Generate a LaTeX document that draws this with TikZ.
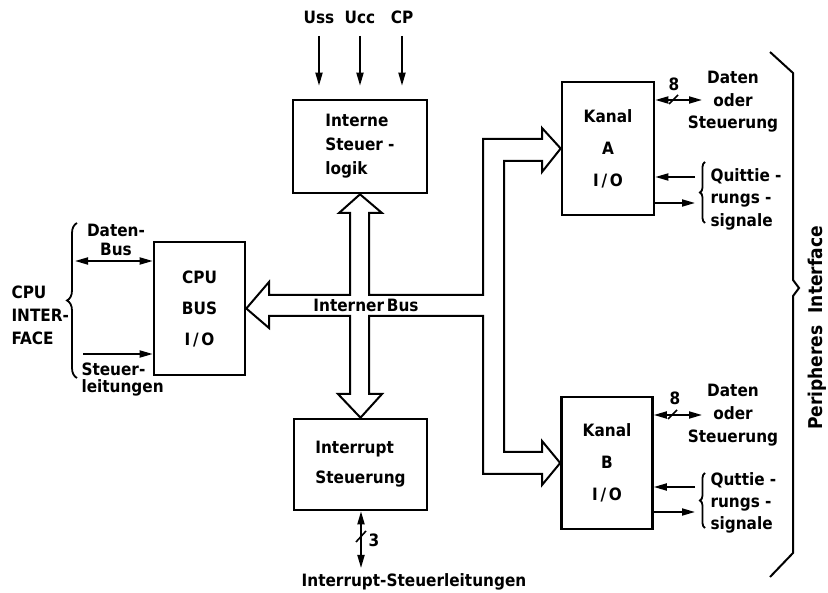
\documentclass[tikz,border=0pt]{standalone}
\usepackage{fontspec}
\newfontfamily\lab{DejaVu Sans Condensed}
\usetikzlibrary{arrows.meta,decorations.pathreplacing}
\tikzset{
    block/.style={draw,line width=2.6pt,inner sep=0pt},
    sig/.style={line width=1.8pt,-{Triangle[length=13pt,width=7pt]}},
    dsig/.style={line width=1.8pt,{Triangle[length=13pt,width=7pt]}-{Triangle[length=13pt,width=7pt]}},
    bus/.style={line width=2pt,line join=miter},
    brc/.style={line width=1.8pt,decorate,decoration={brace,amplitude=#1}},
    fs/.style={font=\lab\bfseries\fontsize{17}{#1}\selectfont}
}
\begin{document}
\begin{tikzpicture}[x=1pt,y=-1pt,every node/.style={fs=22}]
    \useasboundingbox (0,0) rectangle (828,593);
    % Bausteine
    \node[block,minimum width=134pt,minimum height=93pt,align=left,fs=24] (logik) at (360,146.5) {Interne\\Steuer -\\logik};
    \node[block,minimum width=91pt,minimum height=133pt,align=center,fs=31] (cpu) at (199.5,308.5) {CPU\\BUS\\I\,/\,O};
    \node[block,minimum width=92pt,minimum height=133pt,align=center,fs=32] (kanalA) at (608,148.5) {Kanal\\A\\I\,/\,O};
    \node[block,minimum width=91pt,minimum height=132pt,align=center,fs=32] (kanalB) at (607,463) {Kanal\\B\\I\,/\,O};
    \node[block,minimum width=133pt,minimum height=91pt,align=left,fs=30] (intr) at (360.5,464.5) {Interrupt\\Steuerung};
    % interner Bus
    \draw[bus] (350,295) -- (350,213) -- (339,213) -- (logik.south) -- (382,213) -- (369,213) -- (369,295)
        -- (483,295) -- (483,139) -- (542,139) -- (542,128) -- (kanalA.west) -- (542,172) -- (542,161)
        -- (504,161) -- (504,452) -- (542,452) -- (542,441) -- (kanalB.west) -- (542,485) -- (542,474)
        -- (483,474) -- (483,316) -- (369,316) -- (369,394) -- (382,394) -- (intr.north) -- (338,394)
        -- (350,394) -- (350,316) -- (269,316) -- (269,328) -- (cpu.east) -- (269,282) -- (269,295) -- cycle;
    \node (ibus) at (366,305) {Interner\,Bus};
    % Versorgung und Takt
    \node (uss) at (319,17) {Uss};
    \node (ucc) at (360,17) {Ucc};
    \node (cp) at (402,17) {CP};
    \foreach \n in {uss,ucc,cp}
        \draw[sig,shorten <=9pt,shorten >=13pt] (\n) -- (\n |- logik.north);
    % CPU-Seite
    \node[align=left,anchor=west,fs=23] (cpuif) at (8,315) {CPU\\INTER-\\FACE};
    \draw[brc=10pt] (77,378) -- (77,223);
    \coordinate (db) at (75,261);
    \draw[dsig] (db) -- (db -| cpu.west);
    \node[align=center,fs=19] (dbl) at (116,240) {Daten-\\Bus};
    \coordinate (sl) at (83,354);
    \draw[sig] (sl) -- (sl -| cpu.west);
    \node[align=left,anchor=west,fs=17] (sll) at (78,380) {Steuer-\\leitungen};
    % Interrupt
    \coordinate (irq) at (361,568);
    \draw[dsig] (intr.south -| irq) -- (irq);
    \draw[line width=1.6pt] (356,542) -- (366,531);
    \node (n3) at (374,540) {3};
    \node (irql) at (414,582) {Interrupt-Steuerleitungen};
    % Kanal A
    \coordinate (da) at (702,100);
    \draw[dsig] (da -| kanalA.east) -- (da);
    \draw[line width=1.6pt] (669,104) -- (678,95);
    \node (n8a) at (674,84) {8};
    \node[align=center,fs=22.5] (dal) at (733,102) {Daten\\oder\\Steuerung};
    \coordinate (qa1) at (695,177);
    \coordinate (qa2) at (695,203);
    \draw[sig] (qa1) -- (qa1 -| kanalA.east);
    \draw[sig] (qa2 -| kanalA.east) -- (qa2);
    \draw[brc=5pt] (705,223) -- (705,162);
    \node[align=left,anchor=west,fs=22.5] (qal) at (707,199) {Quittie -\\rungs -\\signale};
    % Kanal B
    \coordinate (dbb) at (702,415);
    \draw[dsig] (dbb -| kanalB.east) -- (dbb);
    \draw[line width=1.6pt] (668,419) -- (677,410);
    \node (n8b) at (675,398) {8};
    \node[align=center,fs=23] (dbl2) at (733,415) {Daten\\oder\\Steuerung};
    \coordinate (qb1) at (695,487);
    \coordinate (qb2) at (695,512);
    \draw[sig] (qb1) -- (qb1 -| kanalB.east);
    \draw[sig] (qb2 -| kanalB.east) -- (qb2);
    \draw[brc=5pt] (705,528) -- (705,473);
    \node[align=left,anchor=west,fs=22] (qbl) at (707,503) {Quttie -\\rungs -\\signale};
    % Peripherie
    \draw[line width=2pt] (770,52) -- (793,73) -- (793,280) -- (799,288) -- (793,296) -- (793,553) -- (770,577);
    \node[rotate=90,font=\lab\bfseries\fontsize{19}{22}\selectfont] (perif) at (817,328) {Peripheres\ \ Interface};
\end{tikzpicture}
\end{document}
